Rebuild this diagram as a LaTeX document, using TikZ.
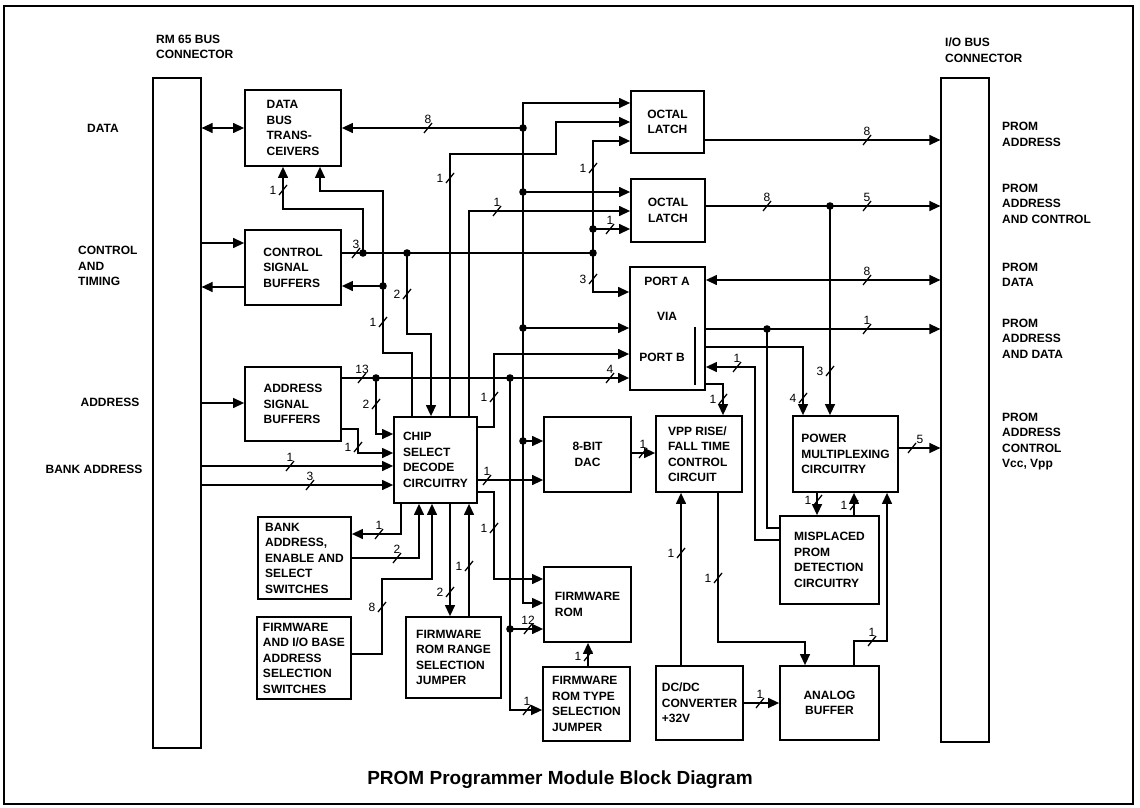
\documentclass[tikz,border=0pt]{standalone}
\usepackage{fontspec}
\setmainfont{Liberation Sans}
\usetikzlibrary{arrows.meta}

\begin{document}
\begin{tikzpicture}[x=1pt, y=-1pt,
  blk/.style={draw, line width=1.8pt, inner sep=0pt, align=left,
              font=\bfseries\fontsize{12}{15.5}\selectfont},
  cblk/.style={blk, align=center},
  conn/.style={draw, line width=1.2pt, inner sep=0pt},
  lbl/.style={inner sep=0pt, align=left,
              font=\bfseries\fontsize{12}{15.5}\selectfont},
  num/.style={inner sep=0.5pt, font=\fontsize{12}{13}\selectfont},
  wire/.style={line width=1.3pt},
  arr/.style={wire, -{Triangle[length=11pt, width=10pt]}},
  dbl/.style={wire, {Triangle[length=11pt, width=10pt]}-{Triangle[length=11pt, width=10pt]}},
  pics/cut/.style={code={\draw[line width=1.3pt] (-4,5) -- (4,-5);}}]
  \useasboundingbox (0,0) rectangle (1140,808);
  \draw[line width=1.8pt] (4,6) rectangle (1133,804);
  % bus connectors
  \node[conn, minimum width=48pt, minimum height=670pt] (rm65) at (177,413) {};
  \node[conn, minimum width=48pt, minimum height=664pt] (io) at (965,410) {};
  \node[lbl, anchor=west] (rmlbl) at (156,47) {RM 65 BUS\\CONNECTOR};
  \node[lbl, anchor=west] (iolbl) at (945,50) {I/O BUS\\CONNECTOR};
  \node[lbl] (ldata) at (103,128) {DATA};
  \node[lbl, anchor=west] (lctl) at (78,266) {CONTROL\\AND\\TIMING};
  \node[lbl] (laddr) at (110,402) {ADDRESS};
  \node[lbl] (lbank) at (94,469) {BANK ADDRESS};
  \node[lbl, anchor=west] (rpa) at (1002,134.5) {PROM\\ADDRESS};
  \node[lbl, anchor=west] (rpac) at (1002,203.5) {PROM\\ADDRESS\\AND CONTROL};
  \node[lbl, anchor=west] (rpd) at (1002,275) {PROM\\DATA};
  \node[lbl, anchor=west] (rpad) at (1002,338.5) {PROM\\ADDRESS\\AND DATA};
  \node[lbl, anchor=west] (rpv) at (1002,441.5) {PROM\\ADDRESS\\CONTROL\\Vcc, Vpp};
  % blocks
  \node[blk, minimum width=96pt, minimum height=76pt] (dbt) at (293,128) {DATA\\BUS\\TRANS-\\CEIVERS};
  \node[blk, minimum width=96pt, minimum height=75pt] (csb) at (293,267.5) {CONTROL\\SIGNAL\\BUFFERS};
  \node[blk, minimum width=96pt, minimum height=74pt] (asb) at (293,404) {ADDRESS\\SIGNAL\\BUFFERS};
  \node[blk, minimum width=83pt, minimum height=86pt] (csd) at (435.5,460) {CHIP\\SELECT\\DECODE\\CIRCUITRY};
  \node[blk, minimum width=93pt, minimum height=82pt] (bas) at (304.5,558) {BANK\\ADDRESS,\\ENABLE AND\\SELECT\\SWITCHES};
  \node[blk, minimum width=94pt, minimum height=82pt] (fio) at (304,658) {FIRMWARE\\AND I/O BASE\\ADDRESS\\SELECTION\\SWITCHES};
  \node[blk, minimum width=95pt, minimum height=81pt] (frr) at (453.5,657.5) {FIRMWARE\\ROM RANGE\\SELECTION\\JUMPER};
  \node[cblk, minimum width=73pt, minimum height=62pt] (ol1) at (667.5,122) {OCTAL\\LATCH};
  \node[cblk, minimum width=74pt, minimum height=63pt] (ol2) at (668,210.5) {OCTAL\\LATCH};
  \node[blk, minimum width=75pt, minimum height=123pt] (via) at (667.5,328.5) {};
  \node[lbl] (porta) at (667,281) {PORT A};
  \node[lbl] (vialbl) at (667,316) {VIA};
  \node[lbl] (portb) at (662,357) {PORT B};
  \draw[line width=1.3pt] (695,327) -- (695,385);
  \node[cblk, minimum width=87pt, minimum height=75pt] (dac) at (587.5,454.5) {8-BIT\\DAC};
  \node[blk, minimum width=86pt, minimum height=76pt] (vpp) at (699,454) {VPP RISE/\\FALL TIME\\CONTROL\\CIRCUIT};
  \node[blk, minimum width=105pt, minimum height=76pt] (pmc) at (845.5,454) {POWER\\MULTIPLEXING\\CIRCUITRY};
  \node[blk, minimum width=99pt, minimum height=88pt] (mpd) at (829.5,560) {MISPLACED\\PROM\\DETECTION\\CIRCUITRY};
  \node[blk, minimum width=87pt, minimum height=75pt] (from) at (587.5,604.5) {FIRMWARE\\ROM};
  \node[blk, minimum width=87pt, minimum height=74pt] (frt) at (586.5,704) {FIRMWARE\\ROM TYPE\\SELECTION\\JUMPER};
  \node[blk, minimum width=87pt, minimum height=74pt] (dcdc) at (699.5,703) {DC/DC\\CONVERTER\\+32V};
  \node[cblk, minimum width=99pt, minimum height=74pt] (ab) at (829.5,703) {ANALOG\\BUFFER};
  \node[font=\bfseries\fontsize{19}{22}\selectfont, inner sep=0pt] (title) at (560,780)
    {PROM Programmer Module Block Diagram};
  % connector side
  \draw[dbl] (rm65.east |- 0,128) -- (dbt.west |- 0,128);
  \draw[arr] (rm65.east |- 0,243) -- (csb.west |- 0,243);
  \draw[arr] (csb.west |- 0,287) -- (rm65.east |- 0,287);
  \draw[arr] (rm65.east |- 0,403) -- (asb.west |- 0,403);
  \draw[arr] (rm65.east |- 0,466) -- (csd.west |- 0,466);
  \draw[arr] (rm65.east |- 0,485) -- (csd.west |- 0,485);
  % data bus
  \draw[arr] (523,128) -- (dbt.east |- 0,128);
  \draw[arr] (523,128) -- (523,103) -- (ol1.west |- 0,103);
  \draw[arr] (523,128) -- (523,603) -- (from.west |- 0,603);
  \draw[arr] (523,192) -- (ol2.west |- 0,192);
  \draw[arr] (523,328) -- (via.west |- 0,328);
  \draw[arr] (523,441) -- (dac.west |- 0,441);
  % control lines
  \draw[wire] (csb.east |- 0,253) -- (593,253);
  \draw[arr] (593,253) -- (593,141) -- (ol1.west |- 0,141);
  \draw[arr] (593,253) -- (593,292) -- (via.west |- 0,292);
  \draw[arr] (593,229) -- (ol2.west |- 0,229);
  \draw[arr] (363,253) -- (363,209) -- (283,209) -- (dbt.south -| 283,0);
  \draw[arr] (407,253) -- (407,334) -- (431,334) -- (csd.north -| 431,0);
  \draw[arr] (csd.north -| 412,0) -- (412,353) -- (383,353) -- (383,191) -- (320,191) -- (dbt.south -| 320,0);
  \draw[arr] (383,286) -- (csb.east |- 0,286);
  \draw[arr] (csd.north -| 450,0) -- (450,154) -- (556,154) -- (556,122) -- (ol1.west |- 0,122);
  \draw[arr] (csd.north -| 469,0) -- (469,211) -- (ol2.west |- 0,211);
  % address lines
  \draw[arr] (asb.east |- 0,378) -- (via.west |- 0,378);
  \draw[arr] (376,378) -- (376,434) -- (csd.west |- 0,434);
  \draw[arr] (asb.east |- 0,429) -- (358,429) -- (358,453) -- (csd.west |- 0,453);
  \draw[arr] (510,378) -- (510,629) -- (from.west |- 0,629);
  \draw[arr] (510,629) -- (510,710) -- (frt.west |- 0,710);
  % decoder outputs
  \draw[arr] (csd.east |- 0,427) -- (494,427) -- (494,354) -- (via.west |- 0,354);
  \draw[arr] (csd.east |- 0,480) -- (dac.west |- 0,480);
  \draw[arr] (csd.east |- 0,492) -- (494,492) -- (494,579) -- (from.west |- 0,579);
  \draw[arr] (csd.south -| 401,0) -- (401,534) -- (bas.east |- 0,534);
  \draw[arr] (bas.east |- 0,558) -- (419,558) -- (csd.south -| 419,0);
  \draw[arr] (fio.east |- 0,654) -- (382,654) -- (382,579) -- (432,579) -- (csd.south -| 432,0);
  \draw[arr] (csd.south -| 450,0) -- (frr.north -| 450,0);
  \draw[arr] (frr.north -| 469,0) -- (csd.south -| 469,0);
  \draw[arr] (frt.north -| 588,0) -- (from.south -| 588,0);
  % prom side
  \draw[arr] (ol1.east |- 0,140) -- (io.west |- 0,140);
  \draw[arr] (ol2.east |- 0,206) -- (io.west |- 0,206);
  \draw[arr] (830,206) -- (pmc.north -| 830,0);
  \draw[dbl] (via.east |- 0,280) -- (io.west |- 0,280);
  \draw[arr] (via.east |- 0,329) -- (io.west |- 0,329);
  \draw[wire] (767,329) -- (767,528) -- (mpd.west |- 0,528);
  \draw[arr] (via.east |- 0,347) -- (803,347) -- (pmc.north -| 803,0);
  \draw[arr] (mpd.west |- 0,540) -- (755,540) -- (755,367) -- (via.east |- 0,367);
  \draw[arr] (via.east |- 0,384) -- (723,384) -- (vpp.north -| 723,0);
  \draw[arr] (dac.east |- 0,453) -- (vpp.west |- 0,453);
  \draw[arr] (dcdc.north -| 681,0) -- (vpp.south -| 681,0);
  \draw[arr] (vpp.south -| 718,0) -- (718,642) -- (805,642) -- (ab.north -| 805,0);
  \draw[arr] (dcdc.east |- 0,703) -- (ab.west |- 0,703);
  \draw[arr] (ab.north -| 854,0) -- (854,641) -- (887,641) -- (pmc.south -| 887,0);
  \draw[arr] (pmc.south -| 817,0) -- (mpd.north -| 817,0);
  \draw[arr] (mpd.north -| 854,0) -- (pmc.south -| 854,0);
  \draw[arr] (pmc.east |- 0,448) -- (io.west |- 0,448);
  % junction dots
  \foreach \p in {(523,128),(523,192),(523,328),(523,441),(363,253),(407,253),
                  (593,253),(593,229),(383,286),(376,378),(510,378),(510,629),
                  (830,206),(767,329)}
    \fill \p circle[radius=3.8pt];
  % bus widths
  \path (428,128) pic{cut} node[num, above=4pt] (w01) {8};
  \path (290,466) pic{cut} node[num, above=4pt] (w02) {1};
  \path (310,485) pic{cut} node[num, above=4pt] (w03) {3};
  \path (356,253) pic{cut} node[num, above=4pt] (w04) {3};
  \path (283,190) pic{cut} node[num, left=6pt] (w05) {1};
  \path (407,294) pic{cut} node[num, left=6pt] (w06) {2};
  \path (383,322) pic{cut} node[num, left=6pt] (w07) {1};
  \path (593,168) pic{cut} node[num, left=6pt] (w08) {1};
  \path (610,229) pic{cut} node[num, above=4pt] (w09) {1};
  \path (593,279) pic{cut} node[num, left=6pt] (w10) {3};
  \path (450,178) pic{cut} node[num, left=6pt] (w11) {1};
  \path (497,211) pic{cut} node[num, above=4pt] (w12) {1};
  \path (362,378) pic{cut} node[num, above=4pt] (w13) {13};
  \path (610,378) pic{cut} node[num, above=4pt] (w14) {4};
  \path (376,404) pic{cut} node[num, left=6pt] (w15) {2};
  \path (358,447) pic{cut} node[num, left=6pt] (w16) {1};
  \path (528,629) pic{cut} node[num, above=4pt] (w17) {12};
  \path (527,710) pic{cut} node[num, above=4pt] (w18) {1};
  \path (494,397) pic{cut} node[num, left=6pt] (w19) {1};
  \path (487,480) pic{cut} node[num, above=4pt] (w20) {1};
  \path (494,528) pic{cut} node[num, left=6pt] (w21) {1};
  \path (379,534) pic{cut} node[num, above=4pt] (w22) {1};
  \path (397,558) pic{cut} node[num, above=4pt] (w23) {2};
  \path (382,607) pic{cut} node[num, left=6pt] (w24) {8};
  \path (450,592) pic{cut} node[num, left=6pt] (w25) {2};
  \path (469,566) pic{cut} node[num, left=6pt] (w26) {1};
  \path (588,656) pic{cut} node[num, left=6pt] (w27) {1};
  \path (867,140) pic{cut} node[num, above=4pt] (w28) {8};
  \path (767,206) pic{cut} node[num, above=4pt] (w29) {8};
  \path (867,206) pic{cut} node[num, above=4pt] (w30) {5};
  \path (830,371) pic{cut} node[num, left=6pt] (w31) {3};
  \path (867,280) pic{cut} node[num, above=4pt] (w32) {8};
  \path (867,329) pic{cut} node[num, above=4pt] (w33) {1};
  \path (803,398) pic{cut} node[num, left=6pt] (w34) {4};
  \path (737,367) pic{cut} node[num, above=4pt] (w35) {1};
  \path (723,399) pic{cut} node[num, left=6pt] (w36) {1};
  \path (643,453) pic{cut} node[num, above=4pt] (w37) {1};
  \path (681,553) pic{cut} node[num, left=6pt] (w38) {1};
  \path (718,578) pic{cut} node[num, left=6pt] (w39) {1};
  \path (760,703) pic{cut} node[num, above=4pt] (w40) {1};
  \path (872,641) pic{cut} node[num, above=4pt] (w41) {1};
  \path (818,500) pic{cut} node[num, left=6pt] (w42) {1};
  \path (854,505) pic{cut} node[num, left=6pt] (w43) {1};
  \path (912,448) pic{cut} node[num, above right=4pt] (w44) {5};
\end{tikzpicture}
\end{document}
